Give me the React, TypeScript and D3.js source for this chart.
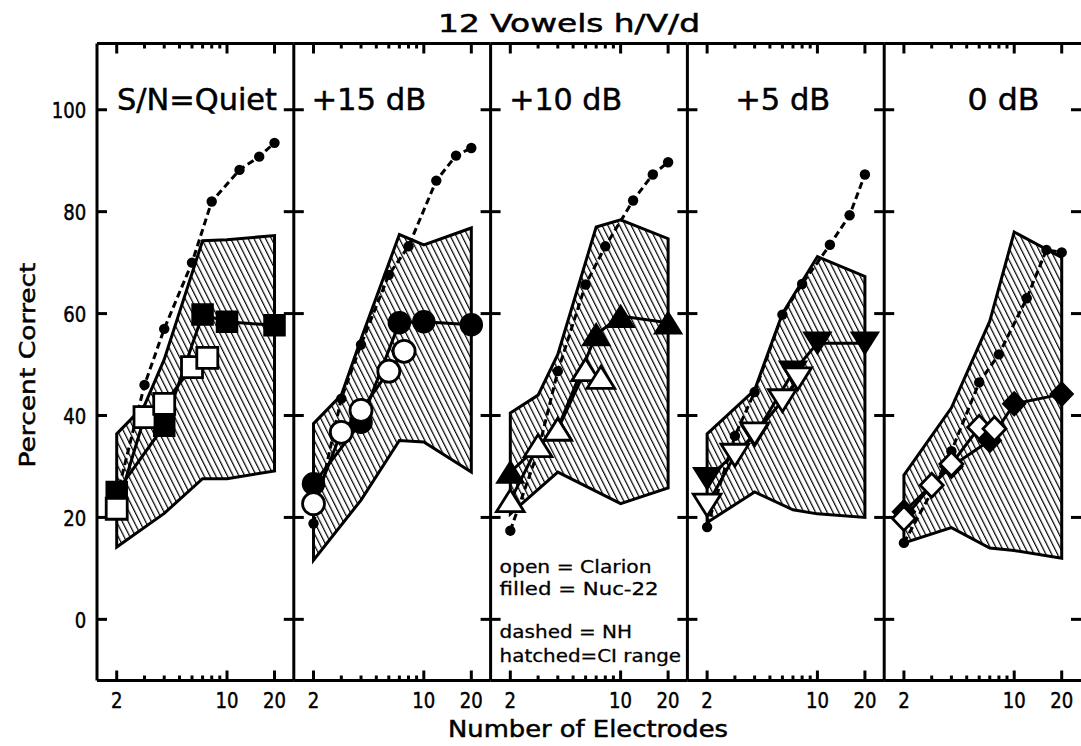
import React from 'react';
import * as d3 from 'd3';

// ---------- data ----------
const TITLE = '12 Vowels h/V/d';
const X_TITLE = 'Number of Electrodes';
const Y_TITLE = 'Percent Correct';
const PANEL_LABELS = ['S/N=Quiet', '+15 dB', '+10 dB', '+5 dB', '0 dB'];
const Y_TICKS = [0, 20, 40, 60, 80, 100];
const X_MAJOR_TICKS = [2, 10, 20];
const X_MINOR_TICKS = [3, 4, 5, 6, 7, 8, 9];
const X_TICK_LABELS = ['2', '10', '20'];
const LEGEND_LINES = ['open = Clarion', 'filled = Nuc-22', 'dashed = NH', 'hatched=CI range'];

// normal hearing (dashed, small dots)
const NH_X = [2, 3, 4, 6, 8, 12, 16, 20];
const NH_Y = [
  [24, 46, 57, 70, 82, 88.2, 90.8, 93.5],
  [18.8, 43.3, 53.9, 67.6, 73.2, 86.1, 91, 92.5],
  [17.4, 33, 48.7, 65.7, 73.2, 82.2, 87.3, 89.7],
  [18.1, 36, 44.6, 59.8, 65.8, 73.5, 79.3, 87.3],
  [15, 25, 33, 46.5, 52, 63, 72.5, 72],
];

// Nucleus-22 (filled)
const NUC_X = [2, 4, 7, 10, 20];
const NUC_Y = [
  [25, 38, 59.8, 58.4, 57.7],
  [26.6, 38.7, 58.2, 58.4, 57.8],
  [28.9, 37.5, 55.9, 59.5, 58.2],
  [27.6, 36, 48.5, 54.2, 54.2],
  [21.1, 30, 35.1, 42.3, 44.2],
];

// Clarion (open)
const CLARION_X = [2, 3, 4, 6, 7.5];
const CLARION_Y = [
  [21.7, 39.7, 42.3, 49.5, 51.3],
  [22.7, 36.7, 41.0, 48.7, 52.6],
  [23.3, 34.1, 37.3, 49, 47.5],
  [22.4, 32.2, 36.4, 42.9, 47.2],
  [19.8, 26.3, 30.5, 37.7, 37.4],
];

const SHAPES = ['square', 'circle', 'triangleUp', 'triangleDown', 'diamond'];

// CI range (hatched area)
const RANGE_HI_X = [
  [2, 3, 4, 7, 10, 20],
  [2, 3, 4, 7, 10, 20],
  [2, 3, 4, 7, 10, 20],
  [2, 4, 6, 10, 20],
  [2, 4, 7, 10, 20],
];
const RANGE_HI = [
  [36.4, 42, 51, 74.3, 74.5, 75.3],
  [38.4, 44, 55, 75.5, 73.5, 76.8],
  [40.5, 44, 52, 77, 78.4, 74.7],
  [36.4, 45, 60, 71.2, 67.3],
  [28.3, 41.5, 58.5, 76, 71],
];
const RANGE_LO_X = [
  [2, 4, 7, 10, 20],
  [2, 4, 7, 10, 20],
  [2, 4, 10, 20],
  [2, 4, 7, 10, 20],
  [2, 4, 7, 10, 20],
];
const RANGE_LO = [
  [14.2, 20.8, 27.6, 27.6, 29.1],
  [11.6, 23.4, 35.1, 34.8, 28.9],
  [20.7, 28.9, 22.7, 25.8],
  [19, 25, 21.5, 20.7, 20],
  [15, 18, 14, 13.5, 12],
];

// ---------- layout ----------
const W = 1081;
const H = 746;
const LEFT = 97;
const PANEL_W = 196.8;
const TOP = 43.5;
const BOTTOM = 680.5;
const FONT = "'DejaVu Sans', sans-serif";
const LABEL_OFFSETS = [20, 17.6, 18.6, 47.8, 83.4];
const LABEL_WIDTHS = [160, 115, 113, 95, 72];
const LEGEND_BASELINES = [573, 595, 638, 661.5];
const LEGEND_WIDTHS = [152, 159, 132.5, 181.5];

function markerPath(shape: string): string {
  switch (shape) {
    case 'square':
      return 'M-10.5,-10.5H10.5V10.5H-10.5Z';
    case 'circle':
      return d3.symbol().type(d3.symbolCircle).size(Math.PI * 11 * 11)() as string;
    case 'triangleUp':
      return 'M0,-11L13.8,11L-13.8,11Z';
    case 'triangleDown':
      return 'M0,11L13.8,-11L-13.8,-11Z';
    default:
      return 'M0,-12L11.5,0L0,12L-11.5,0Z';
  }
}

export default function App() {
  const y = d3.scaleLinear().domain([-12, 113]).range([BOTTOM, TOP]);
  const panels = PANEL_LABELS.map((label, i) => {
    const x0 = LEFT + i * PANEL_W;
    const x = d3.scaleLog().domain([1.5, 26.5]).range([x0, x0 + PANEL_W]);
    return { label, i, x0, x };
  });
  const line = (xs: number[], vs: number[], xsc: any) =>
    d3.line<number>().x((_, j) => xsc(xs[j])).y((v) => y(v))(vs) as string;

  const textStyle = { fontFamily: FONT, fill: '#000', stroke: '#000', strokeWidth: 0.5 } as const;

  return (
    <svg
      width={W}
      height={H}
      viewBox={`0 0 ${W} ${H}`}
      style={{ position: 'fixed', left: 0, top: 0, background: '#fff' }}
    >
      <defs>
        <pattern
          id="hatch"
          patternUnits="userSpaceOnUse"
          width={5.2}
          height={10}
          patternTransform="rotate(-26.6)"
        >
          <line x1={0.6} y1={0} x2={0.6} y2={10} stroke="#000" strokeWidth={1.2} />
        </pattern>
      </defs>
      <rect x={0} y={0} width={W} height={H} fill="#fff" />

      {panels.map(({ i, x }) => {
        const hi = RANGE_HI_X[i].map((xv, j) => [x(xv), y(RANGE_HI[i][j])] as [number, number]);
        const lo = RANGE_LO_X[i].map((xv, j) => [x(xv), y(RANGE_LO[i][j])] as [number, number]);
        const poly = (d3.line()([...hi, ...lo.reverse()]) as string) + 'Z';
        const shape = markerPath(SHAPES[i]);
        return (
          <g key={'data' + i}>
            <path d={poly} fill="url(#hatch)" stroke="none" />
            <path d={poly} fill="none" stroke="#000" strokeWidth={3} strokeLinejoin="miter" />
            <path
              d={line(NH_X, NH_Y[i], x)}
              fill="none"
              stroke="#000"
              strokeWidth={3}
              strokeDasharray="7,4"
            />
            {NH_Y[i].map((v, j) => (
              <circle key={'nh' + j} cx={x(NH_X[j])} cy={y(v)} r={5.2} fill="#000" />
            ))}
            <path d={line(NUC_X, NUC_Y[i], x)} fill="none" stroke="#000" strokeWidth={3} />
            {NUC_Y[i].map((v, j) => (
              <path
                key={'nuc' + j}
                d={shape}
                transform={`translate(${x(NUC_X[j])},${y(v)})`}
                fill="#000"
                stroke="#000"
                strokeWidth={1.5}
              />
            ))}
            <path d={line(CLARION_X, CLARION_Y[i], x)} fill="none" stroke="#000" strokeWidth={3} />
            {CLARION_Y[i].map((v, j) => (
              <path
                key={'cl' + j}
                d={shape}
                transform={`translate(${x(CLARION_X[j])},${y(v)})`}
                fill="#fff"
                stroke="#000"
                strokeWidth={2.8}
              />
            ))}
          </g>
        );
      })}

      {/* frame and ticks */}
      {panels.map(({ i, x0, x, label }) => {
        const x1 = x0 + PANEL_W;
        return (
          <g key={'axis' + i} stroke="#000" strokeWidth={3}>
            <line x1={x0} y1={TOP} x2={x0} y2={BOTTOM} />
            <line x1={x0} y1={TOP} x2={x1} y2={TOP} />
            <line x1={x0} y1={BOTTOM} x2={x1} y2={BOTTOM} />
            {X_MAJOR_TICKS.map((t) => (
              <g key={'M' + t}>
                <line x1={x(t)} x2={x(t)} y1={BOTTOM} y2={BOTTOM - 10} />
                <line x1={x(t)} x2={x(t)} y1={TOP} y2={TOP + 10} />
              </g>
            ))}
            {X_MINOR_TICKS.map((t) => (
              <g key={'m' + t}>
                <line x1={x(t)} x2={x(t)} y1={BOTTOM} y2={BOTTOM - 5} />
                <line x1={x(t)} x2={x(t)} y1={TOP} y2={TOP + 5} />
              </g>
            ))}
            {Y_TICKS.map((t) => (
              <g key={'y' + t}>
                <line x1={x0} x2={x0 + 10} y1={y(t)} y2={y(t)} />
                <line x1={x1 - 10} x2={x1} y1={y(t)} y2={y(t)} />
              </g>
            ))}
            <g>
              {X_MAJOR_TICKS.map((t, k) => (
                <text
                  key={'xl' + t}
                  x={x(t)}
                  y={708.3}
                  textAnchor="middle"
                  fontSize={22}
                  textLength={X_TICK_LABELS[k].length * 11.5}
                  lengthAdjust="spacingAndGlyphs"
                  style={textStyle}
                >
                  {X_TICK_LABELS[k]}
                </text>
              ))}
              <text
                x={x0 + LABEL_OFFSETS[i]}
                y={110}
                fontSize={31}
                textLength={LABEL_WIDTHS[i]}
                lengthAdjust="spacingAndGlyphs"
                style={textStyle}
              >
                {label}
              </text>
            </g>
          </g>
        );
      })}

      {/* y tick labels */}
      {Y_TICKS.map((t) => (
        <text
          key={'yl' + t}
          x={86.2}
          y={y(t) + 8.3}
          textAnchor="end"
          fontSize={22}
          textLength={String(t).length * 11.5}
          lengthAdjust="spacingAndGlyphs"
          style={textStyle}
        >
          {String(t)}
        </text>
      ))}

      {/* legend text in +10 dB panel */}
      {LEGEND_LINES.map((s, k) => (
        <text
          key={'lg' + k}
          x={panels[2].x0 + 9}
          y={LEGEND_BASELINES[k]}
          fontSize={18}
          textLength={LEGEND_WIDTHS[k]}
          lengthAdjust="spacingAndGlyphs"
          style={{ ...textStyle, strokeWidth: 0.3 }}
        >
          {s}
        </text>
      ))}

      <text
        x={569}
        y={32.3}
        textAnchor="middle"
        fontSize={24}
        textLength={262}
        lengthAdjust="spacingAndGlyphs"
        style={textStyle}
      >
        {TITLE}
      </text>
      <text
        x={588}
        y={737}
        textAnchor="middle"
        fontSize={23}
        textLength={280}
        lengthAdjust="spacingAndGlyphs"
        style={textStyle}
      >
        {X_TITLE}
      </text>
      <text
        transform="translate(34.5,365) rotate(-90)"
        x={0}
        y={0}
        textAnchor="middle"
        fontSize={22}
        textLength={205}
        lengthAdjust="spacingAndGlyphs"
        style={textStyle}
      >
        {Y_TITLE}
      </text>
    </svg>
  );
}
